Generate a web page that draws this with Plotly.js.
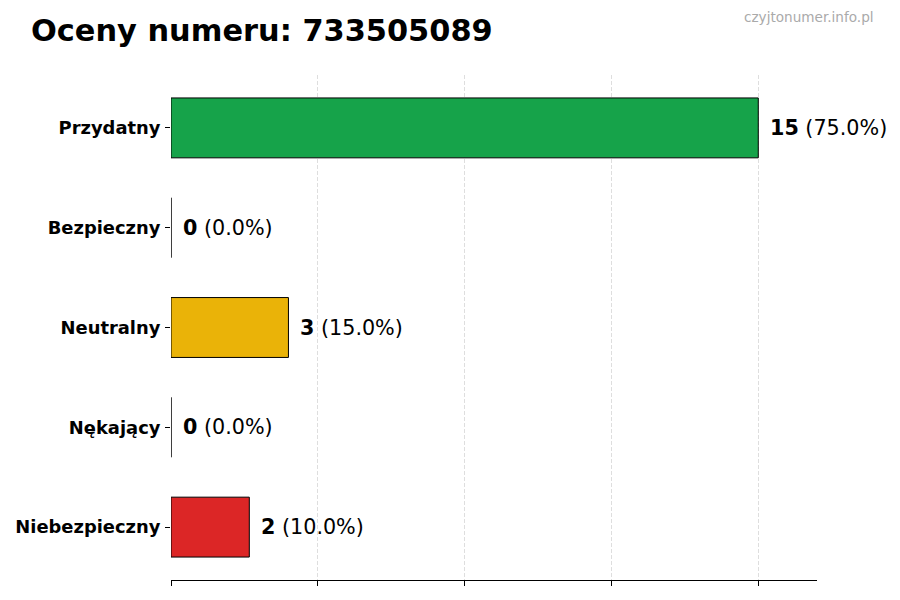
<!DOCTYPE html>
<html>
<head>
<meta charset="utf-8">
<script src="https://cdn.plot.ly/plotly-3.0.1.min.js"></script>
<style>html,body{margin:0;padding:0;background:#fff;}#chart{width:900px;height:600px;}</style>
</head>
<body>
<div id="chart"></div>
<script>
const categories = ["Przydatny", "Bezpieczny", "Neutralny", "Nękający", "Niebezpieczny"];
const counts = [15, 0, 3, 0, 2];
const colors = ["#16a34a", "#3b82f6", "#eab308", "#f97316", "#dc2626"];
const xTicks = [0, 3.75, 7.5, 11.25, 15];
const titleText = "Oceny numeru: 733505089";
const watermark = "czyjtonumer.info.pl";

const L = 171, R = 83, T = 75, B = 20;
const pw = 900 - L - R, ph = 600 - T - B;

const total = counts.reduce((a, b) => a + b, 0);
const annotations = categories.map((c, i) => ({
  x: counts[i], y: c, xref: "x", yref: "y",
  text: "<b>" + counts[i] + "</b> (" + (100 * counts[i] / total).toFixed(1) + "%)",
  showarrow: false, xanchor: "left", yanchor: "middle", xshift: 10,
  font: {family: "DejaVu Sans", size: 20.7, color: "#000"}
}));
annotations.push({
  x: (876 - L) / pw, y: (600 - B - 17) / ph, xref: "paper", yref: "paper", text: watermark, showarrow: false,
  xanchor: "right", yanchor: "middle",
  font: {family: "DejaVu Sans", size: 13.6, color: "#aaaaaa"}
});

const trace = {
  type: "bar", orientation: "h", y: categories, x: counts,
  marker: {color: colors, line: {color: "#000", width: 1}},
  width: 0.6, hoverinfo: "none"
};

const layout = {
  width: 900, height: 600,
  margin: {l: L, r: R, t: T, b: B},
  paper_bgcolor: "#fff", plot_bgcolor: "#fff",
  font: {family: "DejaVu Sans", color: "#000"},
  title: {text: "<b>" + titleText + "</b>", x: 31 / 900, xanchor: "left", y: 1 - 30 / 600, yanchor: "middle",
          font: {family: "DejaVu Sans", size: 30.4, color: "#000"}},
  xaxis: {
    range: [0, 16.5], tickvals: xTicks, showticklabels: false,
    ticks: "outside", ticklen: 5, tickcolor: "#000",
    showline: true, linecolor: "#000", linewidth: 1,
    showgrid: true, gridcolor: "#d6d6d6", griddash: "4px,2px", gridwidth: 0.8,
    zeroline: false, fixedrange: true, layer: "above traces"
  },
  yaxis: {
    type: "category", range: [4.53, -0.53],
    ticks: "outside", ticklen: 5, tickcolor: "#000",
    showline: false, showgrid: false, zeroline: false,
    tickfont: {family: "DejaVu Sans", size: 17.9, color: "#000", weight: "bold"},
    ticklabelstandoff: 1, fixedrange: true
  },
  annotations: annotations,
  showlegend: false
};

Plotly.newPlot("chart", [trace], layout, {displayModeBar: false, staticPlot: true});
</script>
</body>
</html>
